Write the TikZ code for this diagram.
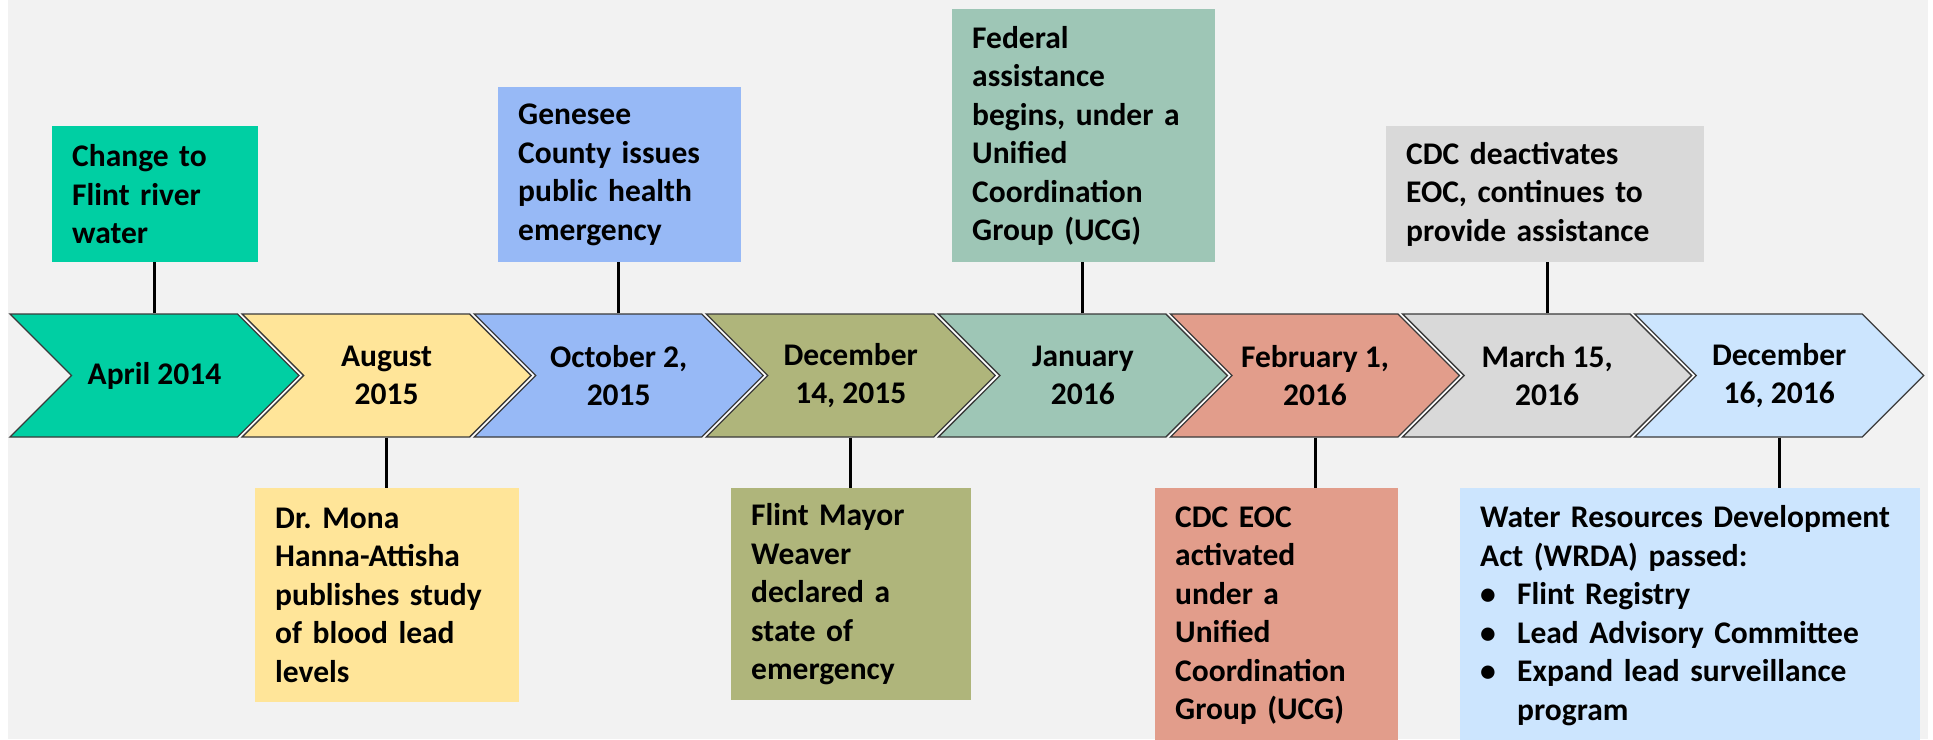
\documentclass[tikz,border=0pt]{standalone}
\usepackage{fontspec}
\setmainfont{Carlito}
\frenchspacing
\usetikzlibrary{shapes.symbols}
\definecolor{apr14}{HTML}{00CFA3}
\definecolor{aug15}{HTML}{FFE599}
\definecolor{oct15}{HTML}{97B9F6}
\definecolor{dec15}{HTML}{AFB57B}
\definecolor{jan16}{HTML}{9EC6B6}
\definecolor{feb16}{HTML}{E29D8B}
\definecolor{mar16}{HTML}{D9D9D9}
\definecolor{dec16}{HTML}{CCE5FE}
\definecolor{canvas}{HTML}{F2F2F2}
\definecolor{rim}{HTML}{3A3A3A}
\newcommand{\tlfont}{\fontsize{31.5}{38.5}\selectfont\bfseries}
\tikzset{
  chev/.style={signal, signal from=west, signal to=east, signal pointer angle=90,
    draw=rim, line width=1.3pt, minimum width=289pt, minimum height=123pt,
    inner sep=0pt, align=center, font=\tlfont},
  event/.style={anchor=north west, inner xsep=20pt, inner ysep=0pt, align=left, font=\tlfont},
  stem/.style={line width=3pt},
}

\begin{document}
\begin{tikzpicture}[x=1pt, y=-1pt]
  \useasboundingbox (0,0) rectangle (1933,739);
  \clip (0,0) rectangle (1933,739);
  \fill[white] (0,0) rectangle (1933,739);
  \fill[canvas] (8,0) rectangle (1928,739);
  % white seams between the arrows
  \fill[white] (155,314) rectangle (1780,437);
  \foreach \i/\col/\txt in {1/apr14/{April 2014}, 2/aug15/{August\\2015},
      3/oct15/{October 2,\\2015}, 4/dec15/{December\\14, 2015}, 5/jan16/{January\\2016},
      6/feb16/{February 1,\\2016}, 7/mar16/{March 15,\\2016}, 8/dec16/{December\\16, 2016}}
    \node[chev, fill=\col] (d\i) at ({154.5+232.1*(\i-1)},375.5) {\txt};

  % events above the arrows
  \node[event, fill=apr14, text width=166pt, minimum height=136pt] (e1) at (52,126)
    {Change to\\Flint river\\water};
  \node[event, fill=oct15, text width=203pt, minimum height=175pt] (e3) at (498,87)
    {Genesee\\County issues\\public health\\emergency};
  \node[event, fill=jan16, text width=223pt, minimum height=253pt] (e5) at (952,9)
    {Federal\\assistance\\begins, under a\\Unified\\Coordination\\Group (UCG)};
  \node[event, fill=mar16, text width=278pt, minimum height=136pt] (e7) at (1386,126)
    {CDC deactivates\\EOC, continues to\\provide assistance};

  % events below the arrows
  \node[event, fill=aug15, text width=224pt, minimum height=214pt] (e2) at (255,488)
    {Dr. Mona\\Hanna-Attisha\\publishes study\\of blood lead\\levels};
  \node[event, fill=dec15, text width=200pt, minimum height=212pt] (e4) at (731,488)
    {Flint Mayor\\Weaver\\declared a\\state of\\emergency};
  \node[event, fill=feb16, text width=203pt, minimum height=255pt] (e6) at (1155,488)
    {CDC EOC\\activated\\under a\\Unified\\Coordination\\Group (UCG)};
  \node[event, fill=dec16, text width=420pt, minimum height=255pt] (e8) at (1460,488)
    {Water Resources Development\\Act (WRDA) passed:\\
     \makebox[37pt][l]{\textbullet}Flint Registry\\
     \makebox[37pt][l]{\textbullet}Lead Advisory Committee\\
     \makebox[37pt][l]{\textbullet}Expand lead surveillance\\
     \hspace*{37pt}program};

  \foreach \i in {1,3,5,7} \draw[stem] (d\i.north) -- (d\i.north |- e\i.south);
  \foreach \i in {2,4,6,8} \draw[stem] (d\i.south) -- (d\i.south |- e\i.north);
\end{tikzpicture}
\end{document}
